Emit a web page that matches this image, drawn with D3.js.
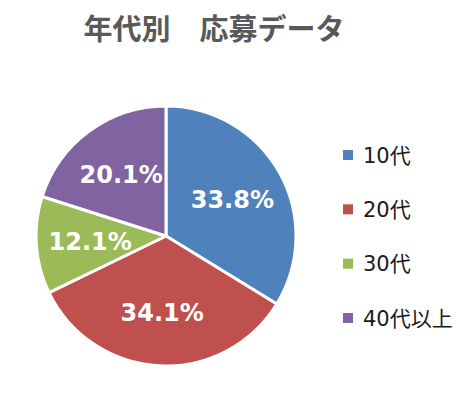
<!DOCTYPE html>
<html>
<head>
<meta charset="utf-8">
<script src="https://cdn.jsdelivr.net/npm/d3@7"></script>
<style>
  body { margin: 0; background: #fff; }
  svg { display: block; }
</style>
</head>
<body>
<svg id="chart" width="476" height="397"></svg>
<script>
const categories = ['10代', '20代', '30代', '40代以上'];
const shares = [33.8, 34.1, 12.1, 20.1];
const colors = ['#4f81bd', '#c0504d', '#9bbb59', '#8064a2'];

const cx = 166;
const cy = 236;
const radius = 130;

const svg = d3.select('#chart');

// title
svg.append('text')
  .attr('x', 214)
  .attr('y', 40)
  .attr('text-anchor', 'middle')
  .style('font-family', '"Noto Sans CJK JP", sans-serif')
  .style('font-weight', 'bold')
  .style('font-size', '29px')
  .style('fill', '#595959')
  .text('年代別　応募データ');

const data = categories.map((c, i) => ({ name: c, value: shares[i], color: colors[i] }));

const pie = d3.pie().value(d => d.value).sort(null);
const arc = d3.arc().innerRadius(0).outerRadius(radius);
const labelArc = d3.arc().innerRadius(76).outerRadius(76);

const g = svg.append('g').attr('transform', `translate(${cx}, ${cy})`);

const slices = g.selectAll('.slice')
  .data(pie(data))
  .enter()
  .append('g')
  .attr('class', 'slice');

slices.append('path')
  .attr('d', arc)
  .attr('fill', d => d.data.color)
  .attr('stroke', '#fff')
  .attr('stroke-width', 3)
  .attr('stroke-linejoin', 'round');

slices.append('text')
  .attr('transform', d => `translate(${labelArc.centroid(d)})`)
  .attr('text-anchor', 'middle')
  .attr('dy', '0.36em')
  .style('font-family', '"DejaVu Sans", Verdana, sans-serif')
  .style('font-weight', 'bold')
  .style('font-size', '24px')
  .style('fill', '#fff')
  .text(d => `${d.data.value.toFixed(1)}%`);

// legend
const legendY = d3.scalePoint()
  .domain(categories)
  .range([155, 318]);

const legend = svg.append('g').attr('class', 'legend');

const items = legend.selectAll('.item')
  .data(data)
  .enter()
  .append('g')
  .attr('class', 'item')
  .attr('transform', d => `translate(343, ${legendY(d.name)})`);

items.append('rect')
  .attr('x', 0)
  .attr('y', -5)
  .attr('width', 10)
  .attr('height', 10)
  .attr('fill', d => d.color);

items.append('text')
  .attr('x', 20)
  .attr('dy', '0.36em')
  .style('font-family', '"DejaVu Sans", "Noto Sans CJK JP", sans-serif')
  .style('font-size', '21px')
  .style('fill', '#1a1a1a')
  .text(d => d.name);
</script>
</body>
</html>
